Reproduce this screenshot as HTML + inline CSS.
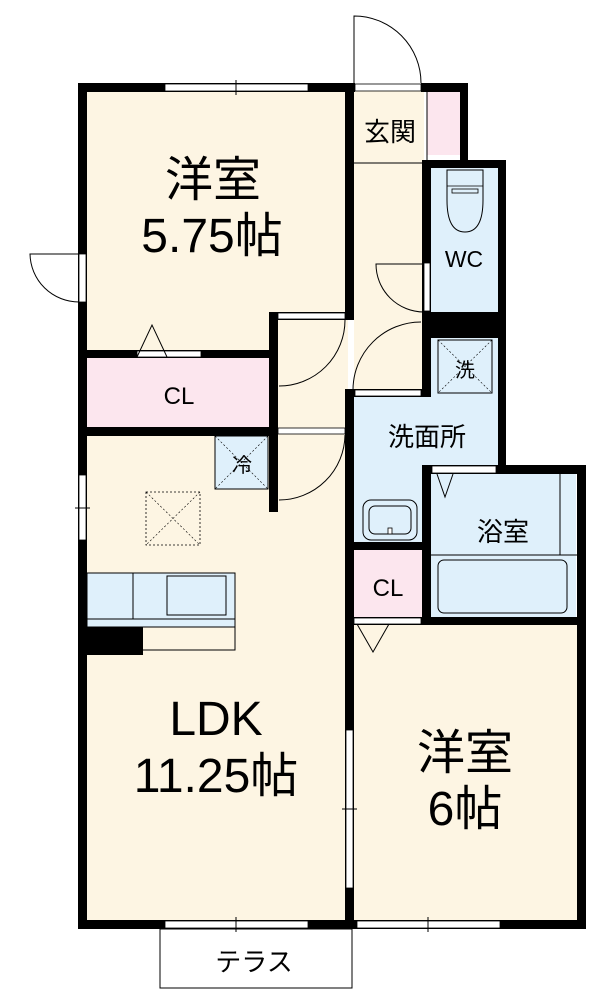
<!DOCTYPE html>
<html><head><meta charset="utf-8"><style>
html,body{margin:0;padding:0;background:#fff;width:603px;height:1000px;overflow:hidden}
svg text{font-family:"Liberation Sans","Noto Sans CJK JP",sans-serif;fill:#000}
</style></head><body>
<svg width="603" height="1000" viewBox="0 0 603 1000" xmlns="http://www.w3.org/2000/svg">
<!-- floors -->
<rect x="87" y="91" width="260" height="430" fill="#fdf5e3"/>
<rect x="87" y="430" width="260" height="492" fill="#fdf5e3"/>
<rect x="354" y="91" width="70" height="300" fill="#fdf5e3"/>
<rect x="278" y="312" width="70" height="200" fill="#fdf5e3"/>
<rect x="354" y="625" width="224" height="297" fill="#fdf5e3"/>
<rect x="427" y="92" width="33" height="63" fill="#fce6ee"/>
<rect x="87" y="358" width="183" height="70" fill="#fce6ee"/>
<rect x="353" y="550" width="70" height="68" fill="#fce6ee"/>
<rect x="431" y="168" width="67" height="144" fill="#dff0fb"/>
<rect x="431" y="338" width="67" height="128" fill="#dff0fb"/>
<rect x="353" y="397" width="145" height="69" fill="#dff0fb"/>
<rect x="353" y="466" width="70" height="78" fill="#dff0fb"/>
<rect x="431" y="474" width="145" height="144" fill="#dff0fb"/>
<rect x="215" y="436" width="53" height="53" fill="#dff0fb" stroke="#000" stroke-width="1"/>
<line x1="215" y1="436" x2="268" y2="489" stroke="#000" stroke-width="0.6" stroke-dasharray="2,2"/>
<line x1="268" y1="436" x2="215" y2="489" stroke="#000" stroke-width="0.6" stroke-dasharray="2,2"/>
<rect x="438" y="340" width="54" height="53" fill="#dff0fb" stroke="#000" stroke-width="1"/>
<line x1="438" y1="340" x2="492" y2="393" stroke="#000" stroke-width="0.6" stroke-dasharray="2,2"/>
<line x1="492" y1="340" x2="438" y2="393" stroke="#000" stroke-width="0.6" stroke-dasharray="2,2"/>
<!-- dashed box -->
<rect x="146" y="492" width="54" height="53" fill="none" stroke="#000" stroke-width="0.8" stroke-dasharray="2,2"/>
<line x1="146" y1="492" x2="200" y2="545" stroke="#000" stroke-width="0.6" stroke-dasharray="2,2"/>
<line x1="200" y1="492" x2="146" y2="545" stroke="#000" stroke-width="0.6" stroke-dasharray="2,2"/>
<!-- kitchen -->
<rect x="87" y="573" width="148" height="54" fill="#dff0fb" stroke="#000" stroke-width="1"/>
<line x1="87" y1="619" x2="235" y2="619" stroke="#000" stroke-width="1"/>
<line x1="133" y1="573" x2="133" y2="619" stroke="#000" stroke-width="1"/>
<rect x="167" y="576" width="59" height="39" fill="none" stroke="#000" stroke-width="1"/>
<rect x="87" y="627" width="148" height="23" fill="#fdf5e3" stroke="#000" stroke-width="1"/>
<rect x="87" y="627" width="56" height="28" fill="#000"/>
<!-- bath -->
<line x1="431" y1="555" x2="577" y2="555" stroke="#000" stroke-width="1"/>
<line x1="560" y1="474" x2="560" y2="555" stroke="#000" stroke-width="1"/>
<rect x="438" y="560" width="129" height="53" rx="6" fill="none" stroke="#000" stroke-width="1"/>
<!-- sink -->
<rect x="363" y="500" width="54" height="40" rx="8" fill="none" stroke="#000" stroke-width="1"/>
<rect x="369" y="506" width="42" height="28" rx="6" fill="none" stroke="#000" stroke-width="1"/>
<rect x="388" y="528" width="4" height="6" fill="#fff" stroke="#000" stroke-width="0.8"/>
<!-- toilet -->
<path d="M447 170 L483 170 L483 200 Q483 232 465 232 Q447 232 447 200 Z" fill="none" stroke="#000" stroke-width="1"/>
<rect x="452" y="189" width="26" height="4" fill="none" stroke="#000" stroke-width="0.8"/>
<line x1="447" y1="186" x2="483" y2="186" stroke="#000" stroke-width="0.8"/>
<!-- genkan line -->
<line x1="354" y1="163" x2="424" y2="163" stroke="#000" stroke-width="1"/>
<line x1="427" y1="92" x2="427" y2="160" stroke="#000" stroke-width="1"/>
<!-- walls -->
<g fill="#000">
<rect x="78" y="83" width="9" height="846"/>
<rect x="78" y="83" width="277" height="9"/>
<rect x="421" y="83" width="47" height="9"/>
<rect x="460" y="83" width="8" height="85"/>
<rect x="422" y="160" width="84" height="8"/>
<rect x="422" y="160" width="9" height="180"/>
<rect x="498" y="160" width="8" height="306"/>
<rect x="422" y="312" width="84" height="26"/>
<rect x="345" y="83" width="9" height="237"/>
<rect x="269" y="312" width="9" height="200"/>
<rect x="269" y="312" width="85" height="8"/>
<rect x="87" y="350" width="190" height="8"/>
<rect x="87" y="427" width="190" height="9"/>
<rect x="345" y="389" width="9" height="540"/>
<rect x="345" y="389" width="80" height="8"/>
<rect x="422" y="338" width="9" height="59"/>
<rect x="422" y="465" width="164" height="9"/>
<rect x="422" y="465" width="9" height="160"/>
<rect x="577" y="465" width="9" height="464"/>
<rect x="345" y="542" width="80" height="8"/>
<rect x="345" y="617" width="241" height="8"/>
<rect x="78" y="920" width="508" height="9"/>
</g>
<!-- openings -->
<g fill="#fff" stroke="#000" stroke-width="0.8">
<rect x="165" y="84" width="143" height="7"/>
<rect x="355" y="84" width="66" height="7"/>
<rect x="79" y="254" width="7" height="48"/>
<rect x="79" y="475" width="7" height="65"/>
<rect x="424" y="263" width="6" height="48"/>
<rect x="137" y="351" width="64" height="6"/>
<rect x="278" y="313" width="67" height="6"/>
<rect x="278" y="428" width="67" height="6"/>
<rect x="355" y="390" width="66" height="6"/>
<rect x="432" y="466" width="64" height="7"/>
<rect x="354" y="618" width="67" height="6"/>
<rect x="346" y="730" width="7" height="158"/>
<rect x="165" y="921" width="143" height="7"/>
<rect x="357" y="921" width="143" height="7"/>
</g>
<g stroke="#000" stroke-width="1" fill="none">
<line x1="236" y1="80" x2="236" y2="95"/>
<line x1="236" y1="917" x2="236" y2="932"/>
<line x1="428" y1="917" x2="428" y2="932"/>
<line x1="342" y1="809" x2="357" y2="809"/>
<line x1="75" y1="508" x2="90" y2="508"/>
<path d="M354 83 L354 16 A67 67 0 0 1 421 83"/>
<path d="M79 254 L30 254 A49 49 0 0 0 79 302"/>
<path d="M424 264 L376 264 A48 48 0 0 0 424 312"/>
<path d="M345 320 A66 66 0 0 1 279 386"/>
<path d="M345 435 A66 66 0 0 1 279 500"/>
<path d="M421 322 A68 68 0 0 0 353 390"/>
<path d="M137 357 L152 325 L167 357"/>
<path d="M437 474 L445 497 L453 474"/>
<path d="M357 624 L373 652 L389 624"/>
<rect x="160" y="929" width="192" height="59"/>
</g>
<!-- labels -->
<text x="213" y="196" font-size="48" text-anchor="middle">洋室</text>
<text x="212" y="252" font-size="48" text-anchor="middle">5.75帖</text>
<text x="390" y="141" font-size="26" text-anchor="middle">玄関</text>
<text x="464" y="267" font-size="23" text-anchor="middle">WC</text>
<text x="179" y="404" font-size="24" text-anchor="middle">CL</text>
<text x="465" y="377" font-size="20" text-anchor="middle">洗</text>
<text x="242" y="472" font-size="20" text-anchor="middle">冷</text>
<text x="427" y="446" font-size="26" text-anchor="middle">洗面所</text>
<text x="503" y="541" font-size="26" text-anchor="middle">浴室</text>
<text x="388" y="596" font-size="24" text-anchor="middle">CL</text>
<text x="216" y="735" font-size="48" text-anchor="middle">LDK</text>
<text x="216" y="792" font-size="48" text-anchor="middle">11.25帖</text>
<text x="465" y="769" font-size="48" text-anchor="middle">洋室</text>
<text x="465" y="825" font-size="48" text-anchor="middle">6帖</text>
<text x="254" y="971" font-size="26" text-anchor="middle">テラス</text>
</svg>
</body></html>
